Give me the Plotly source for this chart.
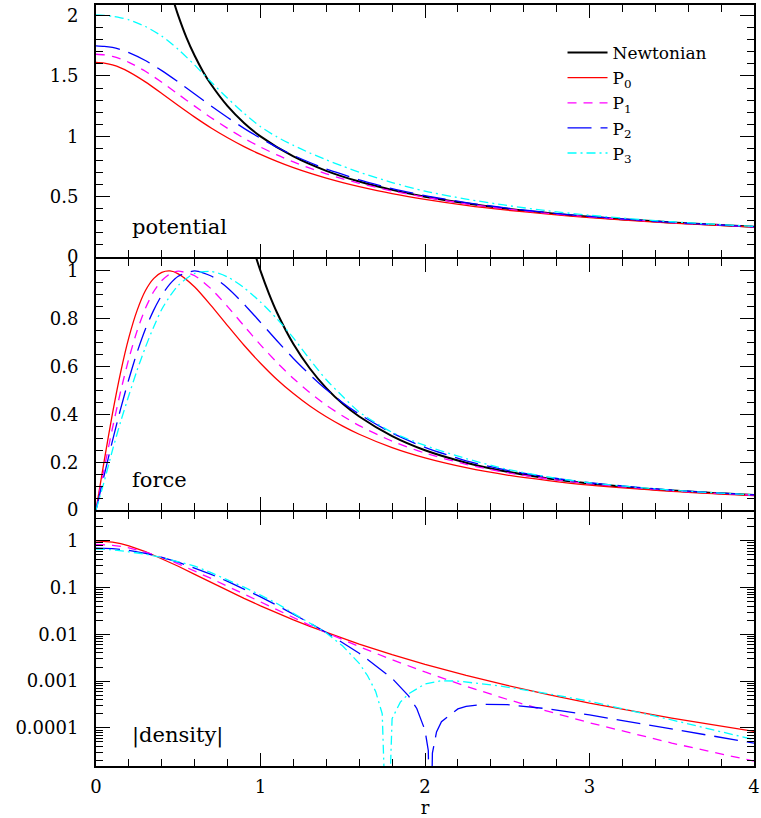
import plotly.graph_objects as go
from plotly.subplots import make_subplots

# ---------------- data ----------------
R = [0, 0.05, 0.1, 0.15, 0.2, 0.3, 0.4, 0.5, 0.6, 0.7, 0.8, 0.9, 1.0, 1.1, 1.2,
     1.3, 1.4, 1.5, 1.6, 1.8, 2.0, 2.25, 2.5, 2.75, 3.0, 3.5, 4.0]
R_F = [0, 0.05, 0.1, 0.15, 0.2, 0.25, 0.3, 0.35, 0.4, 0.45, 0.5, 0.6, 0.7, 0.8, 0.9,
       1.0, 1.1, 1.2, 1.3, 1.4, 1.5, 1.6, 1.8, 2.0, 2.25, 2.5, 2.75, 3.0, 3.5, 4.0]

# Newtonian
R_NEWT_POT = [0.45, 0.475, 0.5, 0.55, 0.6, 0.65, 0.7, 0.8, 0.9, 1.0, 1.2, 1.4, 1.6,
              1.8, 2.0, 2.5, 3.0, 3.5, 4.0]
NEWT_POT = [2.222, 2.105, 2.0, 1.818, 1.667, 1.538, 1.429, 1.25, 1.111, 1.0, 0.833,
            0.714, 0.625, 0.556, 0.5, 0.4, 0.333, 0.286, 0.25]
R_NEWT_FORCE = [0.95, 0.975, 1.0, 1.05, 1.1, 1.2, 1.3, 1.4, 1.5, 1.6, 1.8, 2.0, 2.25,
                2.5, 2.75, 3.0, 3.5, 4.0]
NEWT_FORCE = [1.108, 1.052, 1.0, 0.907, 0.826, 0.694, 0.592, 0.510, 0.444, 0.391,
              0.309, 0.25, 0.198, 0.16, 0.132, 0.111, 0.0816, 0.0625]

# potential
P0_POT = [1.612, 1.607, 1.591, 1.567, 1.534, 1.451, 1.355, 1.255, 1.159, 1.069, 0.988,
          0.915, 0.850, 0.792, 0.740, 0.694, 0.653, 0.616, 0.583, 0.525, 0.478, 0.428,
          0.388, 0.355, 0.326, 0.281, 0.247]
P1_POT = [1.680, 1.675, 1.662, 1.641, 1.613, 1.539, 1.448, 1.349, 1.250, 1.154, 1.066,
          0.984, 0.911, 0.846, 0.788, 0.736, 0.689, 0.648, 0.611, 0.547, 0.495, 0.441,
          0.398, 0.362, 0.333, 0.285, 0.250]
P2_POT = [1.750, 1.746, 1.736, 1.718, 1.693, 1.628, 1.544, 1.450, 1.351, 1.251, 1.156,
          1.066, 0.984, 0.909, 0.842, 0.783, 0.729, 0.685, 0.639, 0.567, 0.509, 0.451,
          0.405, 0.367, 0.336, 0.287, 0.251]
P3_POT = [2.005, 2.002, 1.995, 1.982, 1.965, 1.910, 1.830, 1.720, 1.590, 1.450, 1.315,
          1.190, 1.080, 0.995, 0.925, 0.862, 0.805, 0.752, 0.703, 0.617, 0.546, 0.480,
          0.427, 0.382, 0.346, 0.292, 0.254]

# force
P0_FORCE = [0, 0.207, 0.403, 0.577, 0.722, 0.835, 0.917, 0.968, 0.994, 1.000, 0.988,
            0.933, 0.855, 0.771, 0.689, 0.614, 0.546, 0.487, 0.435, 0.390, 0.351, 0.317,
            0.261, 0.218, 0.177, 0.146, 0.123, 0.104, 0.078, 0.060]
P1_FORCE = [0, 0.174, 0.342, 0.497, 0.634, 0.750, 0.843, 0.913, 0.960, 0.988, 0.999,
            0.980, 0.925, 0.851, 0.770, 0.691, 0.617, 0.550, 0.491, 0.438, 0.393, 0.353,
            0.288, 0.238, 0.191, 0.156, 0.130, 0.110, 0.081, 0.062]
P2_FORCE = [0, 0.146, 0.289, 0.424, 0.548, 0.660, 0.756, 0.835, 0.899, 0.946, 0.978,
            1.000, 0.979, 0.929, 0.861, 0.785, 0.708, 0.634, 0.566, 0.504, 0.449, 0.401,
            0.322, 0.262, 0.206, 0.166, 0.137, 0.114, 0.083, 0.063]
P3_FORCE = [0, 0.120, 0.250, 0.370, 0.480, 0.585, 0.680, 0.765, 0.840, 0.895, 0.940,
            0.990, 0.998, 0.975, 0.930, 0.870, 0.800, 0.720, 0.630, 0.545, 0.475, 0.410,
            0.325, 0.270, 0.215, 0.170, 0.138, 0.114, 0.083, 0.063]

# |density|
P0_DENS = [1.0, 0.984, 0.938, 0.868, 0.781, 0.591, 0.419, 0.286, 0.192, 0.128, 0.0864,
           0.0589, 0.0407, 0.0286, 0.0204, 0.0148, 0.01092, 0.00816, 0.00618, 0.00367,
           0.00228, 0.001327, 0.000811, 0.000516, 0.000340, 0.000162, 8.46e-5]
P1_DENS = [0.838, 0.829, 0.802, 0.760, 0.706, 0.576, 0.442, 0.323, 0.2274, 0.1567,
           0.1066, 0.0721, 0.0487, 0.0331, 0.02265, 0.01564, 0.01090, 0.00768, 0.00547,
           0.00287, 0.001569, 0.000779, 0.000408, 0.000225, 0.000129, 4.73e-5, 1.95e-5]
R_P2_DENS = [0, 0.05, 0.1, 0.15, 0.2, 0.3, 0.4, 0.5, 0.6, 0.7, 0.8, 0.9, 1.0, 1.1, 1.2,
             1.3, 1.4, 1.5, 1.6, 1.8, 1.9, 1.95, 2.0, 2.02, 2.033, 2.045, 2.07, 2.1, 2.2,
             2.25, 2.35, 2.5, 2.75, 3.0, 3.5, 4.0]
P2_DENS = [0.702, 0.697, 0.682, 0.657, 0.624, 0.541, 0.445, 0.350, 0.264, 0.192, 0.136,
           0.0938, 0.0633, 0.0419, 0.0273, 0.0174, 0.01094, 0.0067, 0.00396, 0.00115,
           0.000484, 0.000260, 8.91e-5, 3.29e-5, 1e-7, 2.88e-5, 8.2e-5, 1.36e-4,
           2.55e-4, 2.88e-4, 3.19e-4, 3.15e-4, 2.55e-4, 1.89e-4, 9.5e-5, 4.74e-5]
R_P3_DENS = [0, 0.1, 0.2, 0.3, 0.4, 0.5, 0.6, 0.7, 0.8, 0.9, 1.0, 1.1, 1.2, 1.3, 1.4,
             1.5, 1.6, 1.65, 1.7, 1.74, 1.77, 1.8, 1.85, 1.9, 2.0, 2.1, 2.2, 2.45, 2.7,
             3.0, 3.5, 4.0]
P3_DENS = [0.665, 0.646, 0.583, 0.520, 0.442, 0.357, 0.288, 0.209, 0.148, 0.102, 0.0692,
           0.0457, 0.0282, 0.0174, 0.0107, 0.00562, 0.0024, 0.00132, 0.000603, 0.0002,
           1e-7, 0.000158, 0.000355, 0.000537, 0.00087, 0.00102, 0.001, 0.000794,
           0.000575, 0.000372, 0.000148, 5.6e-5]

NAMES = ["Newtonian", "P<sub>0</sub>", "P<sub>1</sub>", "P<sub>2</sub>", "P<sub>3</sub>"]
COLORS = ["#000000", "#ff0000", "#ff00ff", "#0000ff", "#00ffff"]
DASHES = ["solid", "solid", "9px,7px", "24px,9px", "9px,4px,2px,4px"]
WIDTHS = [2.0, 1.3, 1.3, 1.3, 1.3]

FONT = "DejaVu Serif"

# ---------------- figure ----------------
fig = make_subplots(rows=3, cols=1, shared_xaxes=True, vertical_spacing=0)


def add(row, x, y, i, shape="spline", legend=False):
    fig.add_trace(go.Scatter(
        x=x, y=y, mode="lines", name=NAMES[i], showlegend=legend, legendrank=i,
        line=dict(color=COLORS[i], width=WIDTHS[i], dash=DASHES[i], shape=shape,
                  smoothing=0.7 if shape == "spline" else None),
        hoverinfo="skip"), row=row, col=1)


pots = [P0_POT, P1_POT, P2_POT, P3_POT]
forces = [P0_FORCE, P1_FORCE, P2_FORCE, P3_FORCE]

add(1, R_NEWT_POT, NEWT_POT, 0, legend=True)
for k in range(4):
    add(1, R, pots[k], k + 1, legend=True)

add(2, R_NEWT_FORCE, NEWT_FORCE, 0)
for k in range(4):
    add(2, R_F, forces[k], k + 1)

add(3, R, P0_DENS, 1, shape="linear")
add(3, R, P1_DENS, 2, shape="linear")
add(3, R_P2_DENS, P2_DENS, 3, shape="linear")
add(3, R_P3_DENS, P3_DENS, 4, shape="linear")

tickfont = dict(family=FONT, size=18, color="black")
common = dict(showgrid=False, zeroline=False, showline=True, linewidth=2,
              linecolor="black", mirror="allticks", ticks="inside",
              tickwidth=1.2, tickcolor="black", tickfont=tickfont, automargin=False)

for row in (1, 2, 3):
    fig.update_xaxes(range=[0, 4], tick0=0, dtick=1, ticklen=13,
                     minor=dict(ticks="inside", ticklen=7, dtick=0.2, tickwidth=1.2,
                                tickcolor="black", showgrid=False),
                     showticklabels=(row == 3), row=row, col=1, **common)

fig.update_xaxes(title=dict(text="r", font=dict(family=FONT, size=18, color="black"),
                            standoff=4), ticklabelstandoff=3,
                 ticklabeloverflow="allow", row=3, col=1)

# panel domains (2px gap so the shared border lines coincide)
H = 761.0
fig.update_yaxes(domain=[(766 - 257) / H, 1.0], row=1, col=1)
fig.update_yaxes(domain=[(766 - 510) / H, (766 - 259) / H], row=2, col=1)
fig.update_yaxes(domain=[0.0, (766 - 512) / H], row=3, col=1)

fig.update_yaxes(range=[0, 2.088], tickvals=[0, 0.5, 1, 1.5, 2],
                 ticktext=["0", "0.5", "1", "1.5", "2"], ticklen=14,
                 minor=dict(ticks="inside", ticklen=7, dtick=0.1, tickwidth=1.2,
                            tickcolor="black", showgrid=False),
                 ticklabelstandoff=12, ticklabeloverflow="allow", row=1, col=1, **common)
fig.update_yaxes(range=[0, 1.05], tickvals=[0, 0.2, 0.4, 0.6, 0.8, 1],
                 ticktext=["0", "0.2", "0.4", "0.6", "0.8", "1"], ticklen=14,
                 minor=dict(ticks="inside", ticklen=7, dtick=0.05, tickwidth=1.2,
                            tickcolor="black", showgrid=False),
                 ticklabelstandoff=12, ticklabeloverflow="allow", row=2, col=1, **common)
fig.update_yaxes(type="log", range=[-4.815, 0.617],
                 tickvals=[1e-4, 1e-3, 1e-2, 1e-1, 1],
                 ticktext=["0.0001", "0.001", "0.01", "0.1", "1"], ticklen=14,
                 minor=dict(ticks="inside", ticklen=7, dtick="D1", tickwidth=1.2,
                            tickcolor="black", showgrid=False),
                 ticklabelstandoff=12, ticklabeloverflow="allow", row=3, col=1, **common)

labels = [("potential", "y domain", 0.12), ("force", "y2 domain", 0.12),
          ("|density|", "y3 domain", 0.122)]
for txt, yref, yy in labels:
    fig.add_annotation(text=txt, xref="x domain", yref=yref, x=0.052, y=yy,
                       xanchor="left", yanchor="middle", showarrow=False,
                       font=dict(family=FONT, size=21, color="black"))

fig.update_layout(
    width=761, height=818,
    margin=dict(l=96, r=7, t=5, b=52),
    paper_bgcolor="white", plot_bgcolor="white",
    showlegend=True,
    legend=dict(x=0.709, y=0.9605, xanchor="left", yanchor="top",
                bgcolor="rgba(0,0,0,0)", borderwidth=0,
                font=dict(family=FONT, size=17, color="black"),
                itemwidth=40, tracegroupgap=0, traceorder="normal"),
)

fig.write_html("out.html",
               config={"displayModeBar": False},
               post_script="document.body.style.margin='0';"
                           "document.body.style.overflow='hidden';")
